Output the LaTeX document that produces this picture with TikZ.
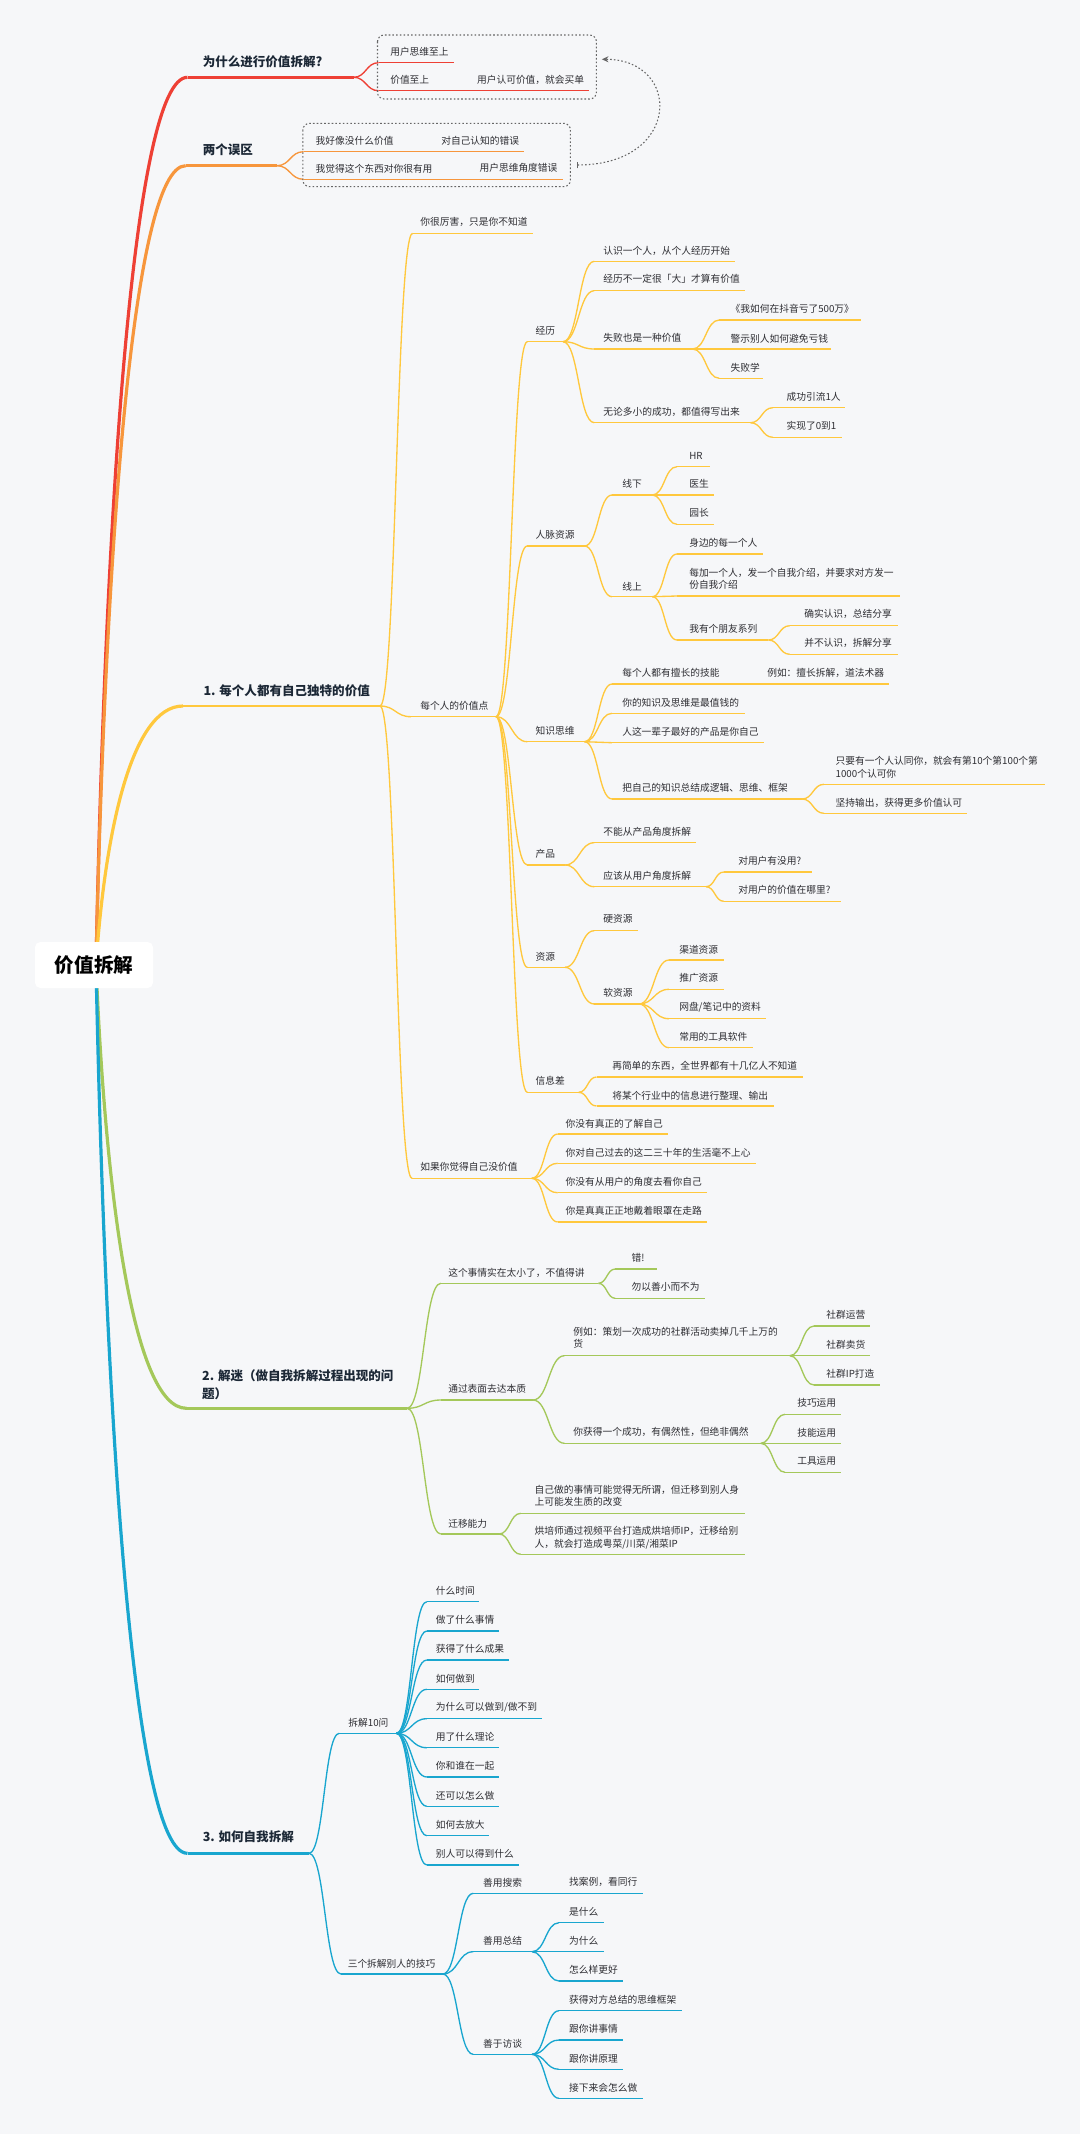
\documentclass[tikz,border=0pt]{standalone}
\usepackage{fontspec}
\setmainfont{Noto Sans CJK SC}
\usetikzlibrary{calc,arrows.meta}
\definecolor{bg}{HTML}{F6F7F9}
\definecolor{cR}{HTML}{EE4035}
\definecolor{cO}{HTML}{F7963C}
\definecolor{cY}{HTML}{FFC83D}
\definecolor{cG}{HTML}{A4C85A}
\definecolor{cB}{HTML}{19A6CF}
\definecolor{txt}{HTML}{2E2E33}
\definecolor{mtxt}{HTML}{1C2836}
\definecolor{dotc}{HTML}{666666}
\tikzset{
 leaf/.style={inner sep=0pt, anchor=west, text=txt, font=\fontsize{7.3}{9.2}\selectfont, align=left},
 main/.style={inner sep=0pt, anchor=west, text=mtxt, font=\fontsize{9.4}{13}\selectfont\bfseries, align=left},
 rootbox/.style={fill=white, rounded corners=4pt, minimum width=88.5pt, minimum height=34.5pt, inner sep=0pt, text=black, font=\fontsize{14.7}{16}\selectfont\bfseries},
 lR/.style={draw=cR, line width=1pt}, mR/.style={draw=cR, line width=2pt},
 lO/.style={draw=cO, line width=1pt}, mO/.style={draw=cO, line width=2pt},
 lY/.style={draw=cY, line width=1pt}, mY/.style={draw=cY, line width=2pt},
 lG/.style={draw=cG, line width=1pt}, mG/.style={draw=cG, line width=2pt},
 lB/.style={draw=cB, line width=1pt}, mB/.style={draw=cB, line width=2pt},
 dotbox/.style={draw=dotc, line width=0.8pt, dash pattern=on 1.2pt off 1.6pt, rounded corners=5pt},
 dotarrow/.style={draw=dotc, line width=0.8pt, dash pattern=on 1.2pt off 1.6pt, {Bar[width=5pt]}-{Stealth[length=5pt,width=4.5pt]}}
}
% name, node style, line style, tx, ty, ul x1, ul x2, ul y, text
\newcommand\tpc[9]{%
 \node[#2] (#1) at (#4,#5) {#9};
 \coordinate (#1-s) at (#6,#8);
 \coordinate (#1-e) at (#7,#8);
 \draw[#3] (#1-s) -- (#1-e);}
\newcommand\cnx[3]{\draw[#1] let \p1=(#2-e), \p2=(#3-s) in (\p1) .. controls ({0.5*\x1+0.5*\x2},\y1) and ({0.5*\x1+0.5*\x2},\y2) .. (\p2);}
\newcommand\rootcn[2]{\draw[#1] let \p1=(rootc), \p2=(#2-s) in (\p1) .. controls ({\x1+0.1*(\x2-\x1)},{\y1+0.5*(\y2-\y1)}) and ({\x1+0.4*(\x2-\x1)},\y2) .. (\p2);}
\begin{document}
\begin{tikzpicture}[x=0.75pt,y=-0.75pt]
\useasboundingbox (0,0) rectangle (1080,2134);
\fill[bg] (0,0) rectangle (1080,2134);
\coordinate (rootc) at (96,965);

% ---------------- main topics
\tpc{b1}{main}{mR}{202.5}{61.7}{187.5}{353.6}{77.3}{为什么进行价值拆解?}
\tpc{b2}{main}{mO}{202.5}{150}{185.7}{276.8}{165.7}{两个误区}
\tpc{b3}{main}{mY}{203.3}{690.7}{183}{380}{706}{1. 每个人都有自己独特的价值}
\tpc{b4}{main}{mG}{201.9}{1384.7}{186.4}{407}{1408.3}{2. 解迷（做自我拆解过程出现的问\\题）}
\tpc{b5}{main}{mB}{202.5}{1836.7}{187.5}{309}{1853.3}{3. 如何自我拆解}

\rootcn{line width=2.4pt,draw=cR}{b1}
\rootcn{line width=2.4pt,draw=cO}{b2}
\rootcn{line width=2.4pt,draw=cY}{b3}
\rootcn{line width=2.4pt,draw=cG}{b4}
\rootcn{line width=2.4pt,draw=cB}{b5}
\node[rootbox] (root) at (94,965) {价值拆解};

% ---------------- red
\tpc{r1}{leaf}{lR}{390}{52.3}{378.6}{454}{62.7}{用户思维至上}
\tpc{r2}{leaf}{lR}{390}{80}{378.6}{466}{90.7}{价值至上}
\tpc{r2a}{leaf}{lR}{476.8}{80}{466}{589}{90.7}{用户认可价值，就会买单}
\foreach \k in {r1,r2} {\cnx{lR}{b1}{\k}}
\cnx{lR}{r2}{r2a}

% ---------------- orange
\tpc{o1}{leaf}{lO}{315.4}{140.7}{303.6}{432}{151.7}{我好像没什么价值}
\tpc{o1a}{leaf}{lO}{441}{140.7}{432}{524.3}{151.7}{对自己认知的错误}
\tpc{o2}{leaf}{lO}{315.4}{168.3}{303.6}{468}{179.3}{我觉得这个东西对你很有用}
\tpc{o2a}{leaf}{lO}{479.3}{168.3}{468}{563.2}{179.3}{用户思维角度错误}
\foreach \k in {o1,o2} {\cnx{lO}{b2}{\k}}
\cnx{lO}{o1}{o1a}
\cnx{lO}{o2}{o2a}

% dotted boxes + arrow
\coordinate (bx1a) at (377.5,35); \coordinate (bx1b) at (596.4,99);
\coordinate (bx2a) at (302.9,123.3); \coordinate (bx2b) at (570.4,186.7);
\draw[dotbox] (bx1a) rectangle (bx1b);
\draw[dotbox] (bx2a) rectangle (bx2b);
\coordinate (ar1) at (576.8,165); \coordinate (ar2) at (601.8,59.3);
\draw[dotarrow] (ar1) .. controls (682,165) and (682,59.3) .. (ar2);

% ---------------- yellow
\tpc{y1}{leaf}{lY}{420.2}{222.3}{412.6}{533}{233.3}{你很厉害，只是你不知道}
\tpc{y2}{leaf}{lY}{420}{705.7}{411}{496}{716.7}{每个人的价值点}
\tpc{y3}{leaf}{lY}{420}{1167.3}{412}{531.8}{1178.3}{如果你觉得自己没价值}
\foreach \k in {y1,y2,y3} {\cnx{lY}{b3}{\k}}

\tpc{y2a}{leaf}{lY}{535.4}{331}{527.3}{563}{341.7}{经历}
\tpc{y2b}{leaf}{lY}{535.4}{535}{527.3}{584.5}{546}{人脉资源}
\tpc{y2c}{leaf}{lY}{535.4}{730.7}{527.3}{584.5}{741.7}{知识思维}
\tpc{y2d}{leaf}{lY}{535.4}{854}{527.3}{565}{865}{产品}
\tpc{y2e}{leaf}{lY}{535.4}{956.7}{527.3}{565}{967.3}{资源}
\tpc{y2f}{leaf}{lY}{535.4}{1081}{527.3}{578.7}{1092.3}{信息差}
\foreach \k in {y2a,y2b,y2c,y2d,y2e,y2f} {\cnx{lY}{y2}{\k}}

\tpc{y2a1}{leaf}{lY}{603.2}{250.7}{594.3}{735}{261.3}{认识一个人，从个人经历开始}
\tpc{y2a2}{leaf}{lY}{603.2}{279.3}{594.3}{745}{290.7}{经历不一定很「大」才算有价值}
\tpc{y2a3}{leaf}{lY}{603.2}{338.3}{594.3}{692.5}{349}{失败也是一种价值}
\tpc{y2a4}{leaf}{lY}{603.2}{411.7}{594.3}{750.5}{422.7}{无论多小的成功，都值得写出来}
\foreach \k in {y2a1,y2a2,y2a3,y2a4} {\cnx{lY}{y2a}{\k}}
\tpc{y2a3a}{leaf}{lY}{730.4}{309}{719.3}{861}{320}{《我如何在抖音亏了500万》}
\tpc{y2a3b}{leaf}{lY}{730.4}{338.3}{719.3}{831}{349}{警示别人如何避免亏钱}
\tpc{y2a3c}{leaf}{lY}{730.4}{367.3}{719.3}{763}{378.3}{失败学}
\foreach \k in {y2a3a,y2a3b,y2a3c} {\cnx{lY}{y2a3}{\k}}
\tpc{y2a4a}{leaf}{lY}{786.3}{396.7}{772.9}{845}{407.7}{成功引流1人}
\tpc{y2a4b}{leaf}{lY}{786.3}{426}{772.9}{842}{437.3}{实现了0到1}
\foreach \k in {y2a4a,y2a4b} {\cnx{lY}{y2a4}{\k}}

\tpc{y2b1}{leaf}{lY}{622}{483.5}{612}{652.3}{495}{线下}
\tpc{y2b2}{leaf}{lY}{622}{586.7}{612}{652.3}{596.7}{线上}
\foreach \k in {y2b1,y2b2} {\cnx{lY}{y2b}{\k}}
\tpc{y2b1a}{leaf}{lY}{689}{455.7}{676.9}{709.5}{466.7}{HR}
\tpc{y2b1b}{leaf}{lY}{689}{484}{676.9}{714}{495}{医生}
\tpc{y2b1c}{leaf}{lY}{689}{513.3}{676.9}{714}{524.3}{园长}
\foreach \k in {y2b1a,y2b1b,y2b1c} {\cnx{lY}{y2b1}{\k}}
\tpc{y2b2a}{leaf}{lY}{689}{543.3}{676.9}{763}{554}{身边的每一个人}
\tpc{y2b2b}{leaf}{lY}{689}{578.8}{676.9}{900}{596}{每加一个人，发一个自我介绍，并要求对方发一\\份自我介绍}
\tpc{y2b2c}{leaf}{lY}{689}{629}{676.9}{768.4}{640}{我有个朋友系列}
\foreach \k in {y2b2a,y2b2b,y2b2c} {\cnx{lY}{y2b2}{\k}}
\tpc{y2b2c1}{leaf}{lY}{804}{614.3}{789.8}{897.8}{625.7}{确实认识，总结分享}
\tpc{y2b2c2}{leaf}{lY}{804}{643.3}{789.8}{897.8}{654.3}{并不认识，拆解分享}
\foreach \k in {y2b2c1,y2b2c2} {\cnx{lY}{y2b2c}{\k}}

\tpc{y2c1}{leaf}{lY}{622}{672.7}{612}{757}{684}{每个人都有擅长的技能}
\tpc{y2c1a}{leaf}{lY}{767}{672.7}{757}{889}{684}{例如：擅长拆解，道法术器}
\tpc{y2c2}{leaf}{lY}{622}{702.3}{612}{745}{713.3}{你的知识及思维是最值钱的}
\tpc{y2c3}{leaf}{lY}{622}{731.7}{612}{764}{742.7}{人这一辈子最好的产品是你自己}
\tpc{y2c4}{leaf}{lY}{622}{788.3}{612}{802}{799}{把自己的知识总结成逻辑、思维、框架}
\foreach \k in {y2c1,y2c2,y2c3,y2c4} {\cnx{lY}{y2c}{\k}}
\cnx{lY}{y2c1}{y2c1a}
\tpc{y2c4a}{leaf}{lY}{835.4}{767.2}{824}{1045}{784.3}{只要有一个人认同你，就会有第10个第100个第\\1000个认可你}
\tpc{y2c4b}{leaf}{lY}{835.4}{802.7}{824}{967}{813.3}{坚持输出，获得更多价值认可}
\foreach \k in {y2c4a,y2c4b} {\cnx{lY}{y2c4}{\k}}

\tpc{y2d1}{leaf}{lY}{603.2}{831.7}{594.3}{696}{842.7}{不能从产品角度拆解}
\tpc{y2d2}{leaf}{lY}{603.2}{876}{594.3}{706}{886.7}{应该从用户角度拆解}
\foreach \k in {y2d1,y2d2} {\cnx{lY}{y2d}{\k}}
\tpc{y2d2a}{leaf}{lY}{738}{861}{723.8}{812}{872}{对用户有没用?}
\tpc{y2d2b}{leaf}{lY}{738}{890}{723.8}{840.7}{901.3}{对用户的价值在哪里?}
\foreach \k in {y2d2a,y2d2b} {\cnx{lY}{y2d2}{\k}}

\tpc{y2e1}{leaf}{lY}{603.2}{919.3}{594.3}{637.6}{930.7}{硬资源}
\tpc{y2e2}{leaf}{lY}{603.2}{992.7}{594.3}{639}{1004}{软资源}
\foreach \k in {y2e1,y2e2} {\cnx{lY}{y2e}{\k}}
\tpc{y2e2a}{leaf}{lY}{679}{949.3}{669}{723.8}{960}{渠道资源}
\tpc{y2e2b}{leaf}{lY}{679}{978.3}{669}{724}{989.3}{推广资源}
\tpc{y2e2c}{leaf}{lY}{679}{1007.7}{669}{766}{1018.7}{网盘/笔记中的资料}
\tpc{y2e2d}{leaf}{lY}{679}{1036.7}{669}{752.8}{1047.7}{常用的工具软件}
\foreach \k in {y2e2a,y2e2b,y2e2c,y2e2d} {\cnx{lY}{y2e2}{\k}}

\tpc{y2f1}{leaf}{lY}{612}{1066}{596.5}{803}{1077}{再简单的东西，全世界都有十几亿人不知道}
\tpc{y2f2}{leaf}{lY}{612}{1095.7}{596.5}{774}{1106}{将某个行业中的信息进行整理、输出}
\foreach \k in {y2f1,y2f2} {\cnx{lY}{y2f}{\k}}

\tpc{y3a}{leaf}{lY}{565.3}{1123.3}{557.7}{668}{1134}{你没有真正的了解自己}
\tpc{y3b}{leaf}{lY}{565.3}{1152.7}{557.7}{756}{1163.3}{你对自己过去的这二三十年的生活毫不上心}
\tpc{y3c}{leaf}{lY}{565.3}{1181.7}{557.7}{707}{1192.7}{你没有从用户的角度去看你自己}
\tpc{y3d}{leaf}{lY}{565.3}{1211}{557.7}{707}{1222}{你是真真正正地戴着眼罩在走路}
\foreach \k in {y3a,y3b,y3c,y3d} {\cnx{lY}{y3}{\k}}

% ---------------- green
\tpc{g1}{leaf}{lG}{448}{1272.7}{440.8}{598.4}{1283.3}{这个事情实在太小了，不值得讲}
\tpc{g2}{leaf}{lG}{448}{1388.3}{440.8}{533}{1400}{通过表面去达本质}
\tpc{g3}{leaf}{lG}{448}{1523.3}{440.8}{499}{1534}{迁移能力}
\foreach \k in {g1,g2,g3} {\cnx{lG}{b4}{\k}}
\tpc{g1a}{leaf}{lG}{631.3}{1257.3}{615.3}{656.5}{1269}{错!}
\tpc{g1b}{leaf}{lG}{631.3}{1287.3}{615.3}{705}{1298.3}{勿以善小而不为}
\foreach \k in {g1a,g1b} {\cnx{lG}{g1}{\k}}
\tpc{g2a}{leaf}{lG}{573.2}{1338}{564.4}{789.8}{1355.7}{例如：策划一次成功的社群活动卖掉几千上万的\\货}
\tpc{g2b}{leaf}{lG}{573.2}{1432.3}{564.4}{760.8}{1443.3}{你获得一个成功，有偶然性，但绝非偶然}
\foreach \k in {g2a,g2b} {\cnx{lG}{g2}{\k}}
\tpc{g2a1}{leaf}{lG}{826.2}{1315}{814}{869.8}{1326}{社群运营}
\tpc{g2a2}{leaf}{lG}{826.2}{1344.3}{814}{869.8}{1355.7}{社群卖货}
\tpc{g2a3}{leaf}{lG}{826.2}{1373.3}{814}{879.5}{1385}{社群IP打造}
\foreach \k in {g2a1,g2a2,g2a3} {\cnx{lG}{g2a}{\k}}
\tpc{g2b1}{leaf}{lG}{797}{1403.3}{785}{840.7}{1414.3}{技巧运用}
\tpc{g2b2}{leaf}{lG}{797}{1432.3}{785}{840.7}{1443.3}{技能运用}
\tpc{g2b3}{leaf}{lG}{797}{1461}{785}{840.7}{1472.3}{工具运用}
\foreach \k in {g2b1,g2b2,g2b3} {\cnx{lG}{g2b}{\k}}
\tpc{g3a}{leaf}{lG}{534.4}{1495.5}{520.8}{744.8}{1513.3}{自己做的事情可能觉得无所谓，但迁移到别人身\\上可能发生质的改变}
\tpc{g3b}{leaf}{lG}{534.4}{1537.8}{520.8}{744.8}{1554.3}{烘培师通过视频平台打造成烘培师IP，迁移给别\\人，就会打造成粤菜/川菜/湘菜IP}
\foreach \k in {g3a,g3b} {\cnx{lG}{g3}{\k}}

% ---------------- blue
\tpc{c1}{leaf}{lB}{348.2}{1722.3}{339.3}{396.4}{1733.3}{拆解10问}
\tpc{c2}{leaf}{lB}{347.5}{1963.3}{341}{442.9}{1974}{三个拆解别人的技巧}
\foreach \k in {c1,c2} {\cnx{lB}{b5}{\k}}
\tpc{c1a}{leaf}{lB}{435.7}{1590.7}{426.8}{479.3}{1601.7}{什么时间}
\tpc{c1b}{leaf}{lB}{435.7}{1620}{426.8}{499}{1631}{做了什么事情}
\tpc{c1c}{leaf}{lB}{435.7}{1649}{426.8}{509}{1660}{获得了什么成果}
\tpc{c1d}{leaf}{lB}{435.7}{1678.3}{426.8}{479.3}{1689.3}{如何做到}
\tpc{c1e}{leaf}{lB}{435.7}{1707.7}{426.8}{541.8}{1718.7}{为什么可以做到/做不到}
\tpc{c1f}{leaf}{lB}{435.7}{1736.7}{426.8}{499}{1747.7}{用了什么理论}
\tpc{c1g}{leaf}{lB}{435.7}{1766}{426.8}{499}{1777}{你和谁在一起}
\tpc{c1h}{leaf}{lB}{435.7}{1795.3}{426.8}{499}{1806.3}{还可以怎么做}
\tpc{c1i}{leaf}{lB}{435.7}{1824.7}{426.8}{489.3}{1835.7}{如何去放大}
\tpc{c1j}{leaf}{lB}{435.7}{1854}{426.8}{518.6}{1865}{别人可以得到什么}
\foreach \k in {c1a,c1b,c1c,c1d,c1e,c1f,c1g,c1h,c1i,c1j} {\cnx{lB}{c1}{\k}}
\tpc{c2a}{leaf}{lB}{482.9}{1882.3}{473.2}{559}{1893.3}{善用搜索}
\tpc{c2b}{leaf}{lB}{482.9}{1940.7}{473.2}{532}{1951.7}{善用总结}
\tpc{c2c}{leaf}{lB}{482.9}{2043.3}{473.2}{532}{2054.3}{善于访谈}
\foreach \k in {c2a,c2b,c2c} {\cnx{lB}{c2}{\k}}
\tpc{c2a1}{leaf}{lB}{568.9}{1882.3}{559}{642.9}{1893.3}{找案例，看同行}
\cnx{lB}{c2a}{c2a1}
\tpc{c2b1}{leaf}{lB}{568.9}{1911.7}{559}{603.6}{1922.7}{是什么}
\tpc{c2b2}{leaf}{lB}{568.9}{1940.7}{559}{603.6}{1951.7}{为什么}
\tpc{c2b3}{leaf}{lB}{568.9}{1970}{559}{623.2}{1981}{怎么样更好}
\foreach \k in {c2b1,c2b2,c2b3} {\cnx{lB}{c2b}{\k}}
\tpc{c2c1}{leaf}{lB}{568.9}{1999.3}{559}{682}{2010.7}{获得对方总结的思维框架}
\tpc{c2c2}{leaf}{lB}{568.9}{2029}{559}{623.2}{2040}{跟你讲事情}
\tpc{c2c3}{leaf}{lB}{568.9}{2058.3}{559}{623.2}{2069.3}{跟你讲原理}
\tpc{c2c4}{leaf}{lB}{568.9}{2087.7}{559}{642.9}{2098.3}{接下来会怎么做}
\foreach \k in {c2c1,c2c2,c2c3,c2c4} {\cnx{lB}{c2c}{\k}}
\end{tikzpicture}
\end{document}
